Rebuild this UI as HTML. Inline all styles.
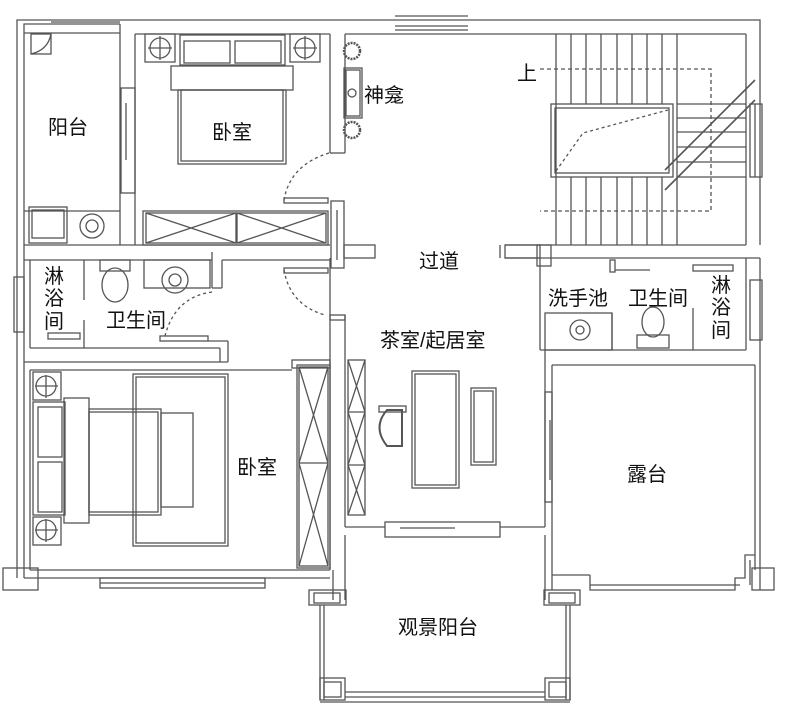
<!DOCTYPE html>
<html><head><meta charset="utf-8"><style>
html,body{margin:0;padding:0;background:#fff;}
svg{display:block;}
text{font-family:"Liberation Sans","Noto Sans CJK SC",sans-serif;fill:#111;font-size:20px;}
</style></head><body>
<svg width="789" height="715" viewBox="0 0 789 715" xmlns="http://www.w3.org/2000/svg">
<g fill="none" stroke="#555" stroke-width="1.3">
<!-- outer walls -->
<polyline points="17,578 17,20 395,20"/>
<polyline points="24,578 24,24 120,24"/>
<line x1="51" y1="22" x2="120" y2="22"/>
<polyline points="468,20 760,20 760,245"/>
<line x1="395" y1="16" x2="468" y2="16"/><line x1="395" y1="20" x2="468" y2="20"/><line x1="395" y1="26" x2="468" y2="26"/><line x1="395" y1="30" x2="468" y2="30"/>
<line x1="135" y1="34" x2="330" y2="34"/>
<line x1="345" y1="34" x2="746" y2="34"/>
<line x1="24" y1="33" x2="120" y2="33"/>
<!-- balcony door corner -->
<rect x="31" y="34" width="20" height="20"/>
<path d="M31,54 Q48,50 51,34"/>
<!-- balcony/bedroom divider -->
<line x1="120" y1="24" x2="120" y2="245"/><line x1="135" y1="34" x2="135" y2="245"/>
<rect x="121" y="88" width="14" height="105"/><line x1="126" y1="103" x2="126" y2="160"/>
<!-- balcony bottom -->
<line x1="24" y1="211" x2="120" y2="211"/>
<rect x="29" y="207" width="38" height="36"/><rect x="32" y="210" width="32" height="28"/>
<circle cx="92" cy="226" r="12"/><circle cx="92" cy="226" r="6"/>
<line x1="24" y1="245" x2="330" y2="245"/>
<line x1="24" y1="260" x2="212" y2="260"/><line x1="222" y1="260" x2="330" y2="260"/>
<!-- bedroom1 -->
<line x1="330" y1="34" x2="330" y2="153"/><line x1="345" y1="34" x2="345" y2="153"/><line x1="330" y1="153" x2="345" y2="153"/>
<rect x="145" y="34" width="30" height="28"/><circle cx="160" cy="48" r="10"/><line x1="148" y1="48" x2="172" y2="48"/><line x1="160" y1="36" x2="160" y2="60"/>
<rect x="290" y="34" width="30" height="28"/><circle cx="305" cy="48" r="10"/><line x1="293" y1="48" x2="317" y2="48"/><line x1="305" y1="36" x2="305" y2="60"/>
<rect x="180" y="35" width="105" height="30"/><rect x="184" y="41" width="46" height="22"/><rect x="235" y="41" width="46" height="22"/>
<rect x="171" y="66" width="122" height="24"/>
<rect x="178" y="90" width="108" height="74"/><rect x="181" y="90" width="102" height="71"/>
<path d="M329,153 Q290,165 284,200" stroke-dasharray="3,3"/>
<rect x="143" y="211" width="185" height="34"/><rect x="146" y="213" width="90" height="30"/><rect x="237" y="213" width="89" height="30"/>
<path d="M146,213 L236,243 M146,243 L236,213 M237,213 L326,243 M237,243 L326,213"/>
<rect x="284" y="198" width="44" height="5"/><rect x="284" y="268" width="44" height="5"/>
<rect x="331" y="201" width="13" height="67"/><line x1="337" y1="210" x2="337" y2="260"/>
<rect x="344" y="245" width="31" height="13"/>
<!-- shrine -->
<rect x="344" y="68" width="18" height="50"/><rect x="346" y="70" width="14" height="46"/>
<circle cx="352" cy="93" r="4"/>
<circle cx="352" cy="51" r="8" stroke-dasharray="2,1" stroke-width="2.5"/>
<circle cx="352" cy="130" r="8" stroke-dasharray="2,1" stroke-width="2.5"/>
<!-- bath 1 -->
<line x1="30" y1="260" x2="30" y2="348"/>
<rect x="14" y="277" width="10" height="55"/>
<line x1="84" y1="260" x2="84" y2="300"/><line x1="84" y1="320" x2="84" y2="348"/>
<rect x="100" y="260" width="30" height="11"/><ellipse cx="115" cy="285" rx="13" ry="17"/>
<rect x="144" y="260" width="66" height="28"/><circle cx="175" cy="280" r="13"/><circle cx="175" cy="280" r="6"/>
<line x1="212" y1="252" x2="212" y2="288"/><line x1="222" y1="260" x2="222" y2="288"/><line x1="212" y1="288" x2="222" y2="288"/>
<path d="M212,292 Q175,297 165,336" stroke-dasharray="3,3"/>
<rect x="160" y="336" width="48" height="5"/>
<rect x="48" y="333" width="32" height="6"/>
<path d="M284,270 Q290,305 325,315" stroke-dasharray="3,3"/>
<line x1="30" y1="348" x2="220" y2="348"/><line x1="220" y1="348" x2="220" y2="362"/><line x1="208" y1="341" x2="228" y2="341"/><line x1="228" y1="341" x2="228" y2="362"/>
<line x1="24" y1="362" x2="228" y2="362"/>
<!-- wall between bed2 and tea room -->
<line x1="330" y1="258" x2="330" y2="570"/><line x1="345" y1="315" x2="345" y2="527"/>
<rect x="330" y="315" width="15" height="5"/>
<!-- bedroom2 -->
<line x1="30" y1="370" x2="30" y2="570"/><line x1="30" y1="370" x2="292" y2="370"/>
<line x1="24" y1="578" x2="330" y2="578"/><line x1="30" y1="570" x2="330" y2="570"/>
<rect x="3" y="568" width="35" height="22"/>
<rect x="100" y="578" width="165" height="10"/><line x1="100" y1="583" x2="265" y2="583"/>
<rect x="33" y="372" width="28" height="28"/><circle cx="46" cy="386" r="10"/><line x1="35" y1="386" x2="58" y2="386"/><line x1="46" y1="375" x2="46" y2="398"/>
<rect x="33" y="517" width="28" height="28"/><circle cx="46" cy="530" r="10"/><line x1="35" y1="530" x2="58" y2="530"/><line x1="46" y1="519" x2="46" y2="542"/>
<rect x="133" y="374" width="95" height="172"/><rect x="136" y="377" width="89" height="166"/>
<rect x="33" y="402" width="32" height="113"/><rect x="38" y="407" width="24" height="50"/><rect x="38" y="462" width="24" height="50"/>
<rect x="64" y="398" width="25" height="125"/>
<rect x="89" y="409" width="72" height="106"/><rect x="89" y="412" width="69" height="100"/>
<rect x="161" y="413" width="32" height="94"/>
<rect x="292" y="360" width="38" height="8"/>
<rect x="297" y="365" width="33" height="203"/><rect x="299" y="367" width="29" height="199"/>
<path d="M299,367 L328,463 M328,367 L299,463 M299,463 L328,566 M328,463 L299,566"/><line x1="299" y1="463" x2="328" y2="463"/>
<!-- tea room -->
<rect x="348" y="360" width="17" height="155"/>
<path d="M348,360 L365,412 M365,360 L348,412 M348,412 L365,465 M365,412 L348,465 M348,465 L365,515 M365,465 L348,515"/>
<line x1="348" y1="412" x2="365" y2="412"/><line x1="348" y1="465" x2="365" y2="465"/>
<rect x="412" y="371" width="47" height="117"/><rect x="415" y="374" width="41" height="111"/>
<rect x="471" y="388" width="25" height="77"/><rect x="474" y="391" width="19" height="71"/>
<path d="M387,410 Q372,427 387,446 L402,446 L402,410 Z" stroke-width="2"/>
<rect x="379" y="406" width="27" height="6"/>
<line x1="345" y1="527" x2="385" y2="527"/><line x1="500" y1="527" x2="545" y2="527"/>
<rect x="385" y="522" width="115" height="15"/><line x1="400" y1="528" x2="455" y2="528"/>
<line x1="345" y1="535" x2="345" y2="600"/><line x1="333" y1="570" x2="333" y2="600"/>
<line x1="545" y1="535" x2="545" y2="600"/>
<line x1="545" y1="350" x2="545" y2="527"/><line x1="552" y1="365" x2="552" y2="590"/>
<rect x="545" y="392" width="7" height="110"/><line x1="550" y1="420" x2="550" y2="480"/>
<line x1="500" y1="258" x2="500" y2="245"/>
<!-- stairs -->
<line x1="556" y1="34" x2="556" y2="245"/>
<line x1="746" y1="34" x2="746" y2="245"/>
<line x1="571" y1="34" x2="571" y2="104"/><line x1="586" y1="34" x2="586" y2="104"/><line x1="601" y1="34" x2="601" y2="104"/><line x1="617" y1="34" x2="617" y2="104"/><line x1="632" y1="34" x2="632" y2="104"/><line x1="647" y1="34" x2="647" y2="104"/><line x1="662" y1="34" x2="662" y2="104"/><line x1="677" y1="34" x2="677" y2="245"/>
<line x1="571" y1="177" x2="571" y2="245"/><line x1="586" y1="177" x2="586" y2="245"/><line x1="601" y1="177" x2="601" y2="245"/><line x1="617" y1="177" x2="617" y2="245"/><line x1="632" y1="177" x2="632" y2="245"/><line x1="647" y1="177" x2="647" y2="245"/><line x1="662" y1="177" x2="662" y2="245"/>
<line x1="677" y1="104" x2="746" y2="104"/><line x1="677" y1="118" x2="746" y2="118"/><line x1="677" y1="132" x2="746" y2="132"/><line x1="677" y1="147" x2="746" y2="147"/><line x1="677" y1="162" x2="746" y2="162"/><line x1="677" y1="177" x2="746" y2="177"/>
<rect x="551" y="104" width="122" height="73"/><rect x="555" y="108" width="114" height="65"/>
<path d="M556,171 L583,133 L668,110" stroke-dasharray="3,3"/>
<path d="M540,69 L711,69 L711,211 L540,211" stroke-dasharray="4,3"/>
<path d="M665,170 L755,80 M665,190 L755,100" stroke-width="1.6"/>
<rect x="750" y="104" width="12" height="73"/><line x1="755" y1="104" x2="755" y2="177"/>
<line x1="505" y1="245" x2="746" y2="245"/>
<line x1="505" y1="258" x2="760" y2="258"/>
<rect x="505" y="245" width="35" height="13"/><rect x="537" y="245" width="14" height="21"/>
<line x1="760" y1="258" x2="760" y2="590"/>
<!-- bath 2 -->
<line x1="540" y1="258" x2="540" y2="350"/><line x1="746" y1="258" x2="746" y2="350"/>
<line x1="540" y1="350" x2="746" y2="350"/>
<rect x="750" y="280" width="12" height="60"/>
<rect x="610" y="260" width="5" height="12"/><line x1="615" y1="270" x2="650" y2="270"/>
<rect x="693" y="265" width="40" height="6"/>
<rect x="545" y="313" width="67" height="37"/><circle cx="580" cy="330" r="10"/><circle cx="580" cy="330" r="4"/>
<line x1="612" y1="313" x2="612" y2="350"/><line x1="693" y1="308" x2="693" y2="350"/>
<ellipse cx="653" cy="322" rx="11" ry="15"/><rect x="637" y="335" width="32" height="13"/>
<!-- terrace -->
<line x1="552" y1="365" x2="755" y2="365"/><line x1="755" y1="365" x2="755" y2="570"/>
<line x1="552" y1="575" x2="590" y2="575"/><polyline points="590,575 590,590 735,590 735,578 745,578 745,555 755,555"/>
<line x1="590" y1="585" x2="740" y2="585"/><line x1="750" y1="560" x2="750" y2="585"/>
<rect x="752" y="568" width="22" height="22"/>
<!-- view balcony -->
<rect x="309" y="590" width="37" height="15"/><rect x="314" y="593" width="26" height="10"/>
<rect x="544" y="590" width="36" height="15"/><rect x="549" y="593" width="26" height="10"/>
<line x1="320" y1="605" x2="320" y2="700"/><line x1="324" y1="605" x2="324" y2="700"/>
<line x1="566" y1="605" x2="566" y2="700"/><line x1="570" y1="605" x2="570" y2="700"/>
<rect x="320" y="678" width="25" height="22"/><rect x="324" y="682" width="17" height="15"/>
<rect x="545" y="678" width="25" height="22"/><rect x="549" y="682" width="17" height="15"/>
<line x1="345" y1="692" x2="545" y2="692"/><line x1="345" y1="697" x2="545" y2="697"/><line x1="320" y1="702" x2="570" y2="702"/>
</g>
<text x="48" y="134">阳台</text>
<text x="212" y="139">卧室</text>
<text x="364" y="102" font-size="17">神龛</text>
<text x="517" y="80" font-size="17">上</text>
<text x="419" y="268">过道</text>
<text x="380" y="347">茶室/起居室</text>
<text x="237" y="474">卧室</text>
<text x="627" y="481">露台</text>
<text x="398" y="634">观景阳台</text>
<text x="106" y="327" font-size="18">卫生间</text>
<text x="628" y="305" font-size="18">卫生间</text>
<text x="548" y="305" font-size="18">洗手池</text>
<text x="44" y="283" font-size="18">淋</text><text x="44" y="305" font-size="18">浴</text><text x="44" y="328" font-size="18">间</text>
<text x="711" y="292" font-size="18">淋</text><text x="711" y="314" font-size="18">浴</text><text x="711" y="337" font-size="18">间</text>
</svg>
</body></html>
